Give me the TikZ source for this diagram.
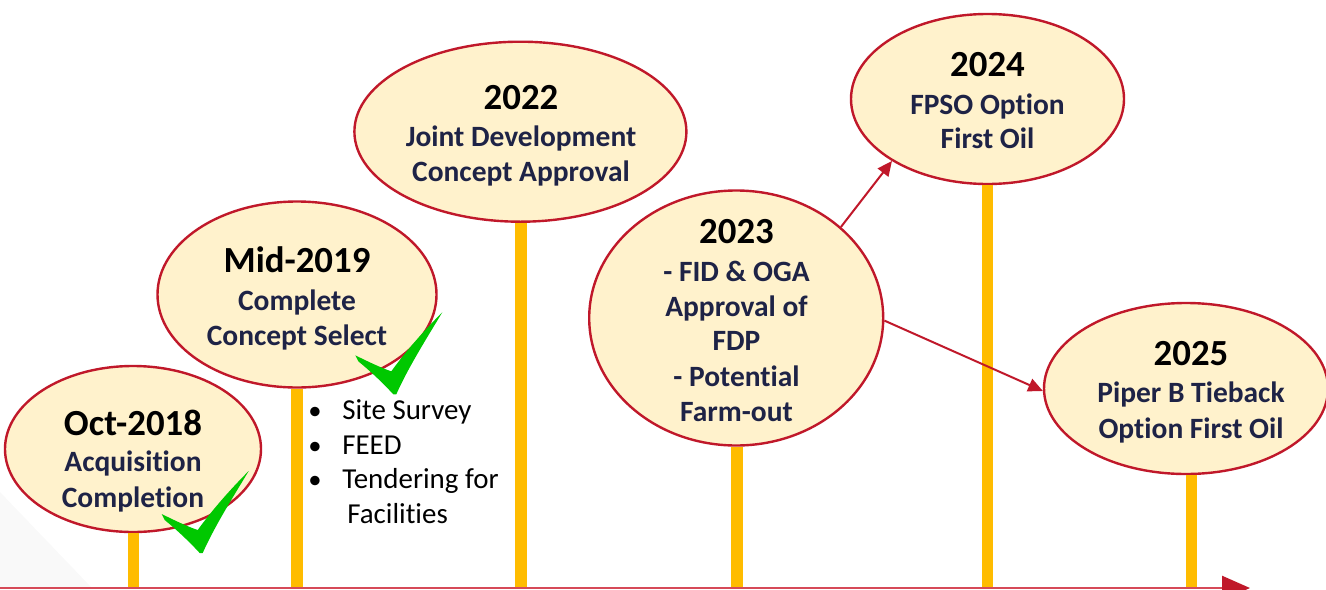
\documentclass[tikz,border=0pt]{standalone}
\usepackage{fontspec}
\setmainfont{Carlito}[Ligatures={NoCommon}]
\usetikzlibrary{arrows.meta,shapes.geometric}

\definecolor{milestonefill}{HTML}{FFF2CC}
\definecolor{milestoneline}{RGB}{192,24,42}
\definecolor{axisline}{RGB}{214,74,88}
\definecolor{poleyellow}{HTML}{FFBC00}
\definecolor{labelnavy}{RGB}{30,35,70}
\definecolor{donegreen}{RGB}{0,200,0}

\begin{document}
\begin{tikzpicture}[x=0.75pt,y=-0.75pt,
  milestone/.style 2 args={ellipse, draw=milestoneline, line width=1.8pt,
    fill=milestonefill, inner sep=0pt, outer sep=0.9pt,
    minimum width=#1*0.75pt, minimum height=#2*0.75pt},
  pole/.style={draw=poleyellow, line width=8.6pt},
  yeartext/.style={anchor=base, inner sep=0pt,
    font=\fontsize{27.6}{30}\selectfont\bfseries, text=black},
  captiontext/.style={anchor=base, inner sep=0pt,
    font=\fontsize{22.1}{26}\selectfont\bfseries, text=labelnavy},
  bullettext/.style={anchor=base west, inner sep=0pt,
    font=\fontsize{21.7}{26}\selectfont, text=black},
  bulletdot/.style={anchor=base, inner sep=0pt,
    font=\fontsize{20}{26}\selectfont, text=black},
  link/.style={draw=milestoneline, line width=1.5pt,
    -{Triangle[length=11pt,width=10pt]}},
  axis/.style={draw=axisline, line width=1.9pt,
    -{Triangle[length=21pt,width=18pt,color=milestoneline]}},
  donemark/.pic={
    \fill[donegreen] (-40,-38) .. controls (-26,-31) and (-13,-25) .. (-4,-22)
      .. controls (12,-44) and (30,-64) .. (47,-81)
      .. controls (32,-56) and (13,-26) .. (1,1)
      -- (-2,1) .. controls (-14,-12) and (-26,-23) .. (-37,-32) -- cycle;
  },
]
\useasboundingbox (0,0) rectangle (1326,589);

% faint backdrop wedge in the lower-left corner
\fill[gray!5] (0,492) -- (93,589) -- (0,589) -- cycle;

% milestone bubbles
\node[milestone={256}{166}] (e1) at (133,449) {};
\node[milestone={279}{186}] (e2) at (297,294.5) {};
\node[milestone={332}{180}] (e3) at (520.4,131.7) {};
\node[milestone={294}{255}] (e4) at (736.2,318) {};
\node[milestone={273}{170}] (e5) at (987.5,99) {};
\node[milestone={284}{171}] (e6) at (1186,388.5) {};

% feet of the poles on the time axis
\coordinate (b1) at (133.5,589);
\coordinate (b2) at (297,589);
\coordinate (b3) at (521,589);
\coordinate (b4) at (737,589);
\coordinate (b5) at (987.5,589);
\coordinate (b6) at (1191.5,589);

\draw[pole] (b1 |- e1.south) -- (b1);
\draw[pole] (b2 |- e2.south) -- (b2);
\draw[pole] (b3 |- e3.south) -- (b3);
\draw[pole] (b4 |- e4.south) -- (b4);
\draw[pole] (b5 |- e5.south) -- (b5);
\draw[pole] (b6 |- e6.south) -- (b6);

% branching options after 2023
\draw[link] (e4.41) -- (e5.213);
\draw[link] (e4.-1) -- (e6.181);

% time axis
\coordinate (axisL) at (0,588);
\coordinate (axisR) at (1250,588);
\draw[axis] (axisL) -- (axisR);

% labels
\node[yeartext] (y1) at (133,435) {Oct-2018};
\node[captiontext] (c1a) at (133,471.7) {Acquisition};
\node[captiontext] (c1b) at (133,507.5) {Completion};

\node[yeartext] (y2) at (297,272.7) {Mid-2019};
\node[captiontext] (c2a) at (297,310) {Complete};
\node[captiontext] (c2b) at (297,345) {Concept Select};

\node[yeartext] (y3) at (521,109.3) {2022};
\node[captiontext] (c3a) at (521,146.7) {Joint Development};
\node[captiontext] (c3b) at (521,181.7) {Concept Approval};

\node[yeartext] (y4) at (736.5,243.3) {2023};
\node[captiontext] (c4a) at (736.5,281.7) {- FID \& OGA};
\node[captiontext] (c4b) at (736.5,316.7) {Approval of};
\node[captiontext] (c4c) at (736.5,350.7) {FDP};
\node[captiontext] (c4d) at (736.5,386.7) {- Potential};
\node[captiontext] (c4e) at (736.5,421.7) {Farm-out};

\node[yeartext] (y5) at (987.5,76) {2024};
\node[captiontext] (c5a) at (987.5,114) {FPSO Option};
\node[captiontext] (c5b) at (987.5,148.3) {First Oil};

\node[yeartext] (y6) at (1191,365) {2025};
\node[captiontext] (c6a) at (1191,402.7) {Piper B Tieback};
\node[captiontext] (c6b) at (1191,438.3) {Option First Oil};

% activities following concept select
\node[bulletdot] (d1) at (315,419) {•};
\node[bulletdot] (d2) at (315,454) {•};
\node[bulletdot] (d3) at (315,488) {•};
\node[bullettext] (t1) at (342,419) {Site Survey};
\node[bullettext] (t2) at (342,454) {FEED};
\node[bullettext] (t3) at (342,488) {Tendering for};
\node[bullettext] (t4) at (347,523) {Facilities};

% completed milestones
\pic (done1) at (201.7,552) {donemark};
\pic (done2) at (395.3,393.3) {donemark};
\end{tikzpicture}
\end{document}
